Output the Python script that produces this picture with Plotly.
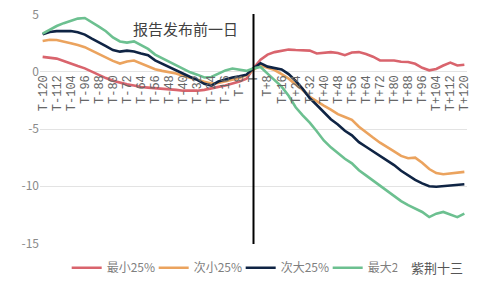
import plotly.graph_objects as go

days = list(range(-120, 121, 4))

smallest = [1.3, 1.25, 1.15, 0.95, 0.7, 0.5, 0.3, 0.0, -0.3, -0.55, -0.78, -0.95, -1.1, -1.2, -1.33, -1.38,
            -1.42, -1.45, -1.5, -1.58, -1.65, -1.68, -1.65, -1.58, -1.42, -1.32, -1.2, -1.05, -0.85, -0.6,
            0.3, 1.05, 1.5, 1.72, 1.85, 1.94, 1.9, 1.88, 1.85, 1.6, 1.66, 1.72, 1.65, 1.45, 1.68, 1.72,
            1.55, 1.32, 1.0, 1.02, 0.98, 0.88, 0.86, 0.7, 0.35, 0.13, 0.25, 0.55, 0.8, 0.55, 0.62]

second_small = [2.69, 2.8, 2.78, 2.67, 2.5, 2.33, 2.15, 1.85, 1.55, 1.2, 0.95, 0.72, 0.9, 0.98, 0.72, 0.45,
                0.22, 0.08, -0.02, -0.15, -0.38, -0.52, -0.7, -0.88, -1.03, -0.98, -0.85, -0.72, -0.55, -0.3,
                0.2, 0.55, 0.35, 0.15, -0.2, -0.6, -1.1, -1.6, -2.2, -2.6, -2.95, -3.3, -3.7, -3.95, -4.2, -4.8,
                -5.3, -5.75, -6.2, -6.55, -6.95, -7.35, -7.55, -7.5, -7.95, -8.5, -8.85, -8.95, -8.9, -8.85, -8.75]

second_large = [3.27, 3.48, 3.55, 3.57, 3.57, 3.45, 3.25, 2.9, 2.6, 2.25, 1.9, 1.76, 1.85, 1.78, 1.6, 1.44,
                1.0, 0.7, 0.4, 0.1, -0.2, -0.45, -0.7, -1.05, -1.2, -0.85, -0.68, -0.5, -0.4, -0.25,
                0.3, 0.75, 0.45, 0.3, 0.2, -0.2, -0.8, -1.5, -2.3, -2.9, -3.5, -4.15, -4.6, -5.15, -5.55, -6.15,
                -6.55, -6.95, -7.35, -7.75, -8.15, -8.65, -9.05, -9.45, -9.75, -10.0, -10.05, -10.0, -9.93, -9.9, -9.83]

largest = [3.33, 3.7, 4.0, 4.25, 4.45, 4.65, 4.7, 4.35, 3.95, 3.55, 3.0, 2.65, 2.55, 2.65, 2.35, 2.0,
           1.5, 1.2, 0.85, 0.55, 0.25, -0.05, -0.25, -0.5, -0.45, -0.15, 0.12, 0.28, 0.2, 0.08,
           0.3, 0.42, -0.16, -0.7, -1.3, -2.1, -3.1, -3.8, -4.45, -5.2, -6.0, -6.6, -7.1, -7.6, -8.0, -8.6,
           -9.05, -9.5, -9.95, -10.45, -10.9, -11.3, -11.65, -11.95, -12.25, -12.7, -12.4, -12.25, -12.45, -12.7, -12.4]

series_names = ["最小25%", "次小25%", "次大25%", "最大25%"]
series_values = [smallest, second_small, second_large, largest]
series_colors = ["#d9646d", "#eba35e", "#0f2444", "#6cc090"]

tick_days = list(range(-120, 121, 8))
tick_labels = [("T" if d == 0 else ("T+%d" % d if d > 0 else "T-%d" % -d)) for d in tick_days]

y_ticks = [5, 0, -5, -10, -15]
y_tick_labels = ["5", "0", "-5", "-10", "-15"]

fig = go.Figure()
for name, vals, col in zip(series_names, series_values, series_colors):
    fig.add_trace(go.Scatter(x=days, y=vals, mode="lines", name=name,
                             line=dict(color=col, width=2.6)))

y_lo, y_hi = -15.05, 5.05
fig.update_layout(
    width=484, height=289,
    margin=dict(l=40, r=17, t=14, b=45, autoexpand=False),
    paper_bgcolor="white", plot_bgcolor="white",
    font=dict(family="Noto Sans CJK SC, DejaVu Sans", color="#7f7f7f"),
    xaxis=dict(range=[-121.5, 121.5], tickvals=tick_days, ticktext=tick_labels,
               tickangle=-90, showgrid=False, zeroline=False, showline=False,
               anchor="free", position=(0 - y_lo) / (y_hi - y_lo), automargin=False,
               tickfont=dict(family="Liberation Mono", size=12, color="#666666"),
               ticks=""),
    yaxis=dict(range=[y_lo, y_hi], tickvals=y_ticks, ticktext=y_tick_labels,
               showgrid=True, gridcolor="#e3e3e3", gridwidth=1, zeroline=False,
               showline=False, automargin=False,
               tickfont=dict(size=12, color="#8a8a8a"), ticks=""),
    legend=dict(orientation="h", x=0.47, xanchor="center", y=-0.04, yanchor="top",
                font=dict(size=12, color="#7f7f7f"), itemwidth=30,
                entrywidth=42, entrywidthmode="pixels"),
    showlegend=True,
)

fig.add_shape(type="line", x0=0, x1=0, y0=y_lo, y1=y_hi, xref="x", yref="y",
              line=dict(color="black", width=2))

fig.add_annotation(x=-38.5, y=3.8, xref="x", yref="y", text="报告发布前一日",
                   showarrow=False, font=dict(size=15, color="#404040"))
fig.add_annotation(x=0.995, y=-0.1, xref="paper", yref="paper", xanchor="right", yanchor="middle",
                   text="紫荆十三", showarrow=False, bgcolor="white", width=64, align="right",
                   font=dict(size=13, color="#555555"))

fig.write_html("out.html")
